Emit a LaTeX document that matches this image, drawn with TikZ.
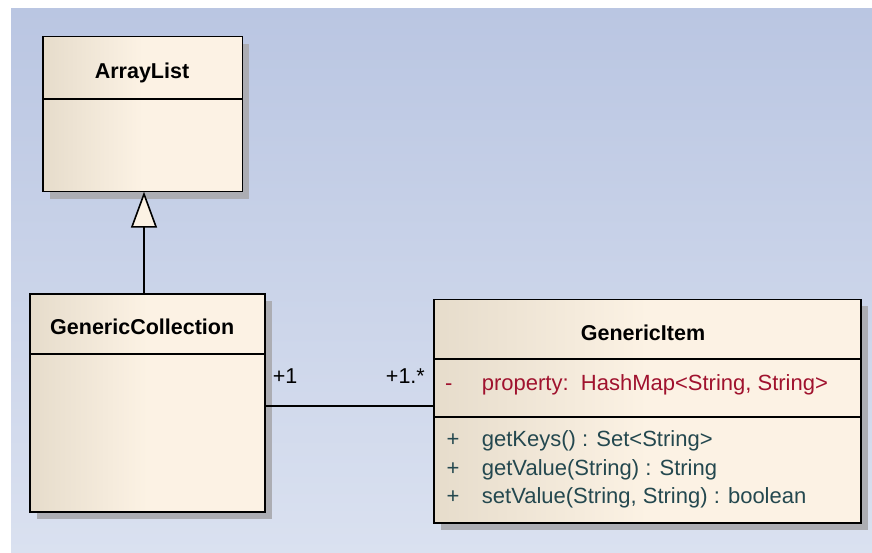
\documentclass[tikz,border=0pt]{standalone}
\usepackage{fontspec}
\setmainfont{Liberation Sans}
\usetikzlibrary{shadows,calc,arrows.meta}
\definecolor{bgtop}{HTML}{BAC6E2}
\definecolor{bgbot}{HTML}{DAE1F0}
\definecolor{boxl}{HTML}{E6DCCB}
\definecolor{boxr}{HTML}{FCF2E4}
\definecolor{shadowc}{HTML}{ACADB3}
\definecolor{attrc}{HTML}{A0122E}
\definecolor{opc}{HTML}{24484F}
\begin{document}
\begin{tikzpicture}[x=1pt,y=-1pt,
  classbox/.style={draw=black, line width=1.6pt, left color=boxl, right color=boxr,
    middle color=boxr, anchor=north west, inner sep=0pt, outer sep=0pt,
    drop shadow={shadow xshift=7pt, shadow yshift=-7pt, fill=shadowc, opacity=1}},
  divider/.style={draw=black, line width=1.6pt},
  link/.style={draw=black, line width=1.6pt},
  classname/.style={font=\fontsize{21.5}{25}\selectfont\bfseries, inner sep=0pt},
  member/.style={font=\fontsize{22}{26}\selectfont, inner sep=0pt, anchor=base west},
  role/.style={font=\fontsize{21.5}{25}\selectfont, inner sep=0pt}]

  % canvas
  \useasboundingbox (0,0) rectangle (872,553);
  \fill[white] (0,0) rectangle (872,553);
  \fill[top color=bgtop, bottom color=bgbot] (11,9) rectangle (872,553);

  % classes
  \node[classbox, minimum width=199.6pt, minimum height=155pt] (arraylist) at (42.7,36.7) {};
  \node[classbox, minimum width=235pt, minimum height=217.7pt] (gencoll) at (30,294) {};
  \node[classbox, minimum width=426.7pt, minimum height=223.4pt] (genitem) at (434,299.3) {};

  % compartments
  \draw[divider] ($(arraylist.north west)+(0,62.6)$) -- ($(arraylist.north east)+(0,62.6)$);
  \draw[divider] ($(gencoll.north west)+(0,60)$) -- ($(gencoll.north east)+(0,60)$);
  \draw[divider] ($(genitem.north west)+(0,59.7)$) -- ($(genitem.north east)+(0,59.7)$);
  \draw[divider] ($(genitem.north west)+(0,117.4)$) -- ($(genitem.north east)+(0,117.4)$);

  % class names
  \node[classname, anchor=base] (alname) at (142,78.3) {ArrayList};
  \node[classname, anchor=base west] (gcname) at (50,334.3) {GenericCollection};
  \node[classname, anchor=base] (giname) at (643,340) {GenericItem};

  % attributes
  \node[member, text=attrc] (attrvis) at (445,390) {-};
  \node[member, text=attrc] (attr) at (481.7,390) {property:\ \ HashMap<String, String>};

  % operations
  \node[member, text=opc] (op1vis) at (446.5,446.7) {+};
  \node[member, text=opc] (op1) at (481.7,446.7) {getKeys() : Set<String>};
  \node[member, text=opc] (op2vis) at (446.5,475) {+};
  \node[member, text=opc] (op2) at (481.7,475) {getValue(String) : String};
  \node[member, text=opc] (op3vis) at (446.5,503.3) {+};
  \node[member, text=opc] (op3) at (481.7,503.3) {setValue(String, String) : boolean};

  % generalization
  \draw[link, -{Triangle[length=36pt, width=26pt, fill=boxr]}]
    ($(gencoll.north west)+(114,0)$) -- ($(arraylist.south west)+(101.3,0)$);

  % association
  \draw[link] ($(gencoll.north east)+(0,111.7)$) -- ($(genitem.north west)+(0,106.4)$);
  \node[role, anchor=base west] (rolea) at (272.7,383.5) {+1};
  \node[role, anchor=base east] (roleb) at (425,383.5) {+1.*};
\end{tikzpicture}
\end{document}
